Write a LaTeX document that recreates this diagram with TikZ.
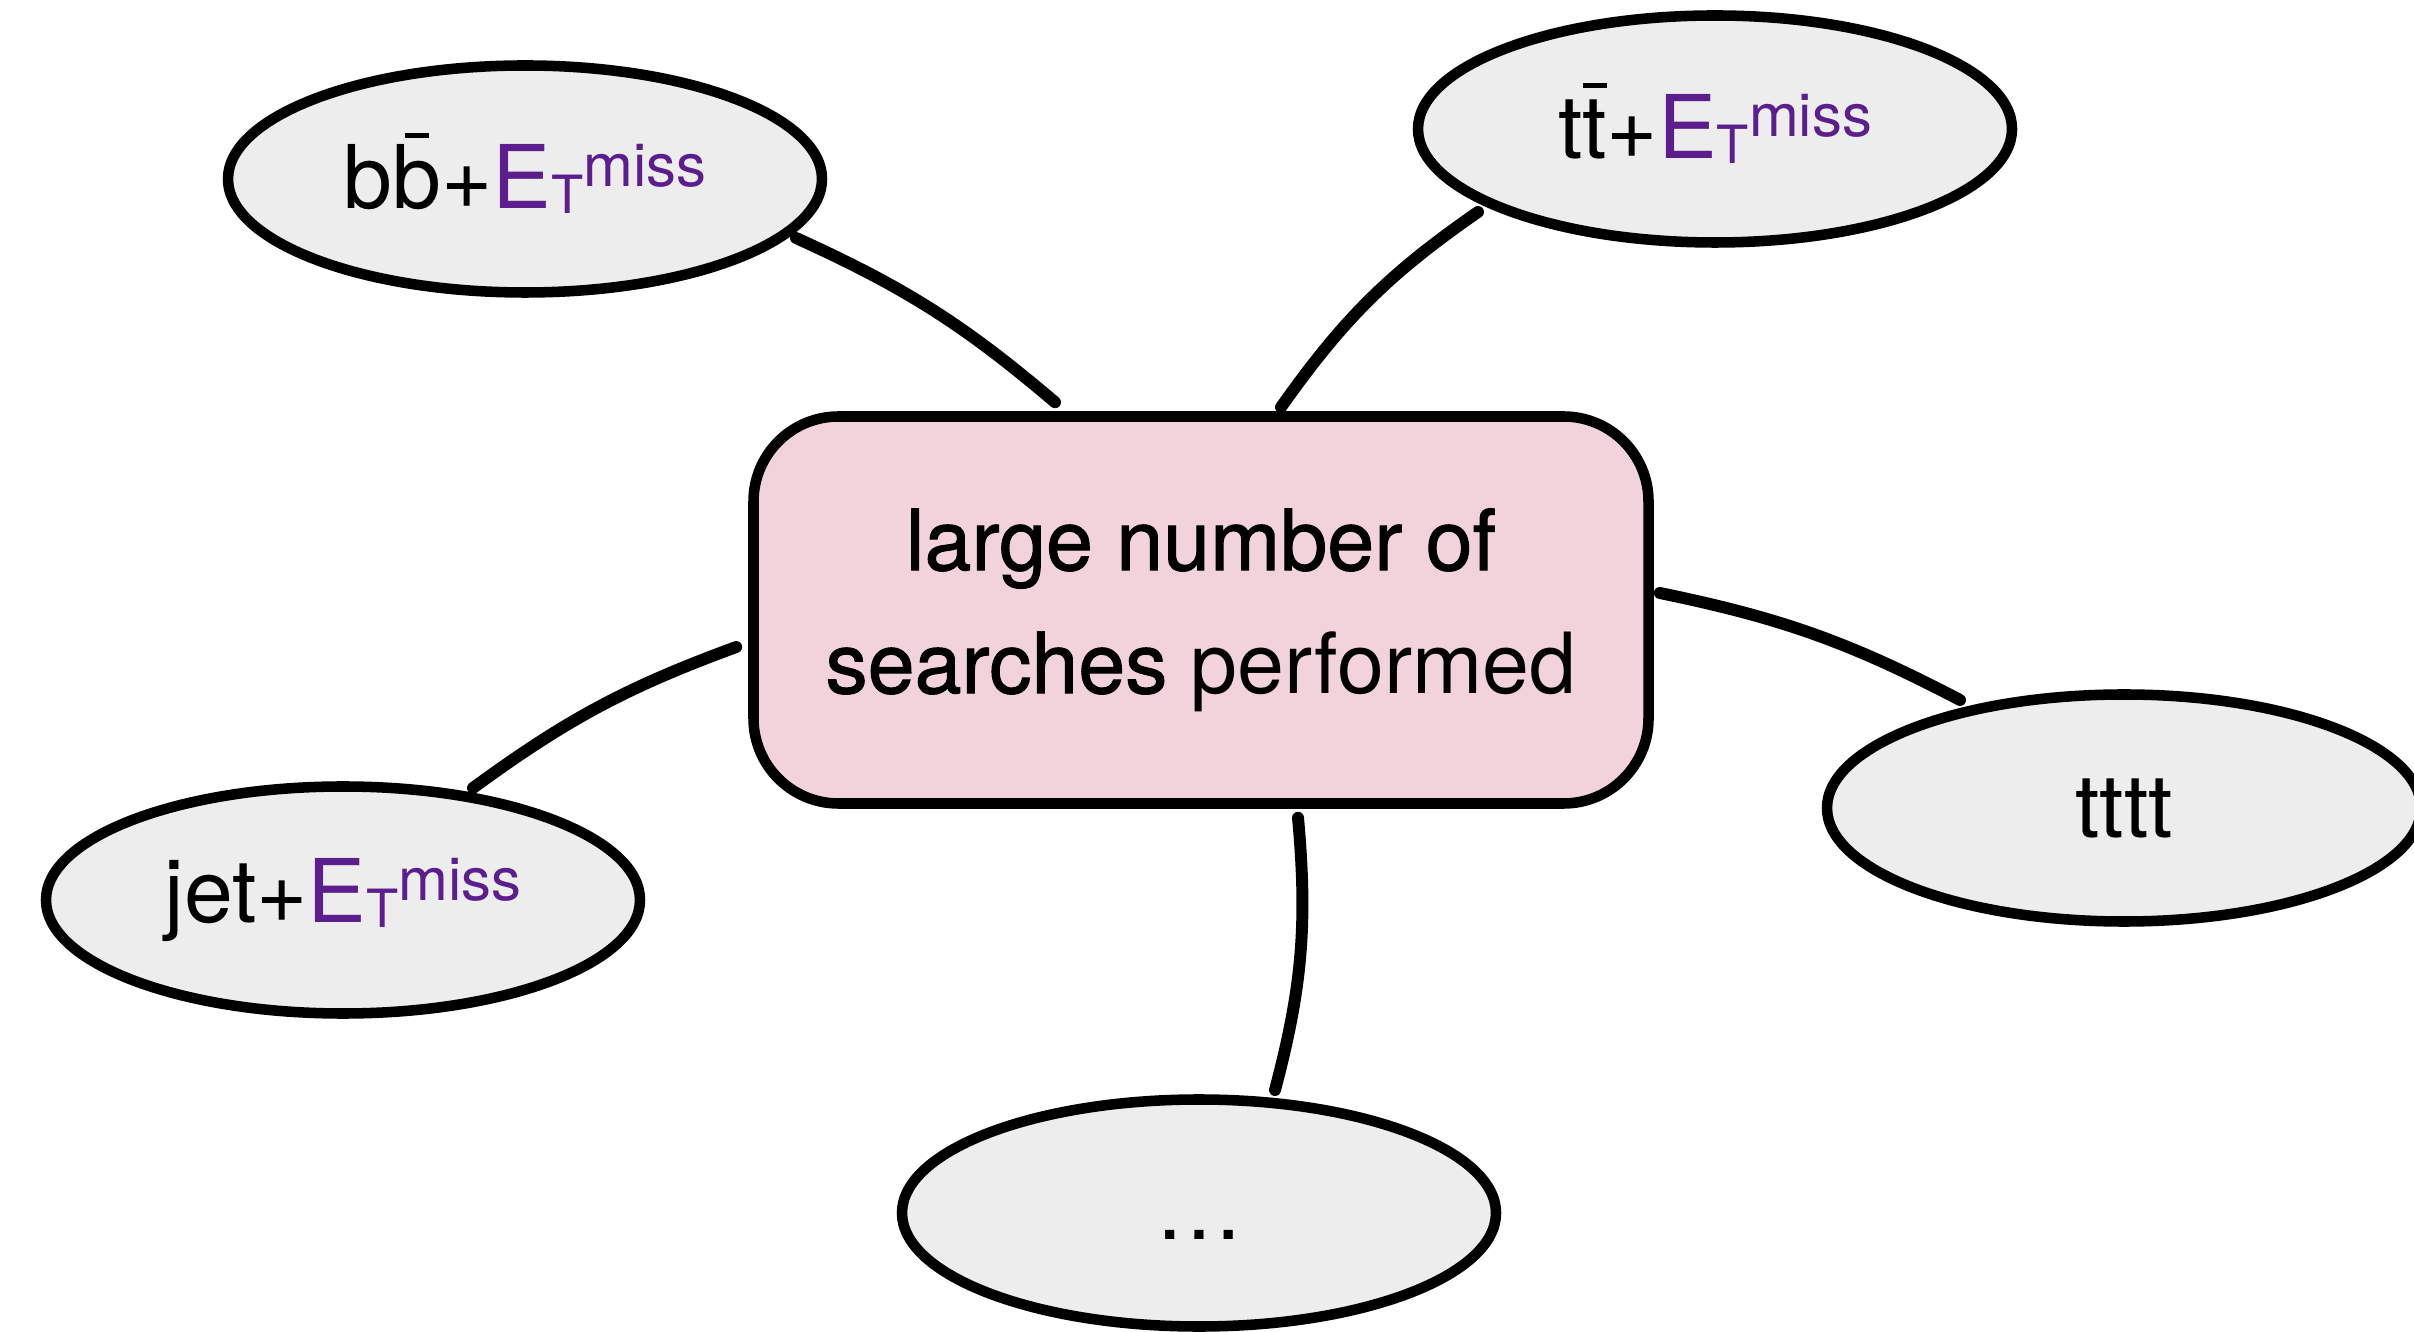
\documentclass[tikz,border=0pt]{standalone}
\usepackage{fontspec}
\setmainfont{TeX Gyre Heros}
\newfontfamily\medfont[FakeBold=1.2]{TeX Gyre Heros}
\usepackage{tikz}
\usetikzlibrary{shapes.geometric, positioning}
\usepackage{xcolor}
\definecolor{nodegrey}{RGB}{237,237,237}
\definecolor{boxpink}{RGB}{242,211,220}
\definecolor{misspurple}{RGB}{92,30,140}

% missing transverse energy and antiquark bar
\newcommand{\etmiss}{{\color{misspurple}E\raisebox{-0.06em}{\fontsize{15}{15}\selectfont T}\raisebox{0.25em}{\fontsize{17}{17}\selectfont miss}}}
\newcommand{\antiq}[1]{\leavevmode\ooalign{#1\cr\hidewidth\raisebox{0.8em}{\rule{0.27em}{0.055em}}\hidewidth\cr}}

\tikzset{
  searchnode/.style={ellipse, draw, fill=nodegrey, line width=3pt,
    minimum width=5.94cm, minimum height=2.27cm, inner sep=0pt,
    font=\fontsize{25}{30}\selectfont},
  centrebox/.style={rectangle, draw, fill=boxpink, line width=3pt,
    rounded corners=0.85cm, minimum width=8.95cm, minimum height=3.87cm,
    align=center, font=\fontsize{24}{35}\selectfont},
  link/.style={line width=3.4pt, line cap=round}
}

\begin{document}
\begin{tikzpicture}
  \useasboundingbox (0,0) rectangle (24.14,-13.32);
  % centre
  \node[centrebox] (box) at (12.01,-6.10) {{\medfont large number of}\\{\medfont searches} performed};
  % searches
  \node[searchnode] (bb) at (5.25,-1.79) {b\antiq{b}+\etmiss};
  \node[searchnode] (tt) at (17.15,-1.29) {t\antiq{t}+\etmiss};
  \node[searchnode] (tttt) at (21.24,-8.08) {tttt};
  \node[searchnode] (jet) at (3.43,-9.00) {jet+\etmiss};
  \node[searchnode, text height=0.52cm] (dots) at (11.99,-12.13) {\ldots};
  % connectors
  \draw[link] ([xshift=2.71cm,yshift=-0.59cm]bb.center) to[bend left=8] ([xshift=-1.46cm,yshift=0.09cm]box.north);
  \draw[link] ([xshift=-2.37cm,yshift=-0.83cm]tt.center) to[bend right=10] ([xshift=0.80cm,yshift=0.04cm]box.north);
  \draw[link] ([xshift=-1.64cm,yshift=1.08cm]tttt.center) to[bend right=8] ([xshift=0.06cm,yshift=0.17cm]box.east);
  \draw[link] ([xshift=1.30cm,yshift=1.12cm]jet.center) to[bend left=8] ([xshift=-0.12cm,yshift=-0.37cm]box.west);
  \draw[link] ([xshift=0.76cm,yshift=1.23cm]dots.center) to[bend right=10] ([xshift=0.97cm,yshift=-0.09cm]box.south);
\end{tikzpicture}
\end{document}
